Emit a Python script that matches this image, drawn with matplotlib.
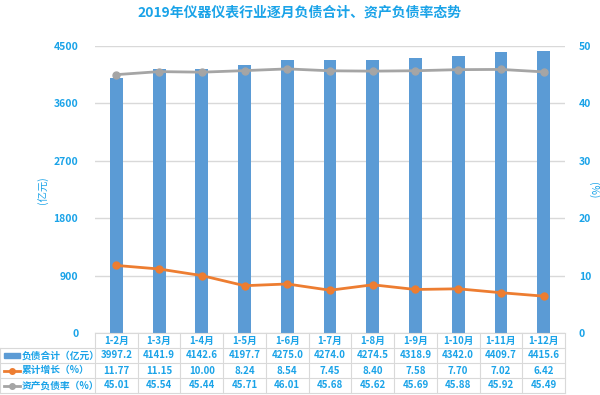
import matplotlib.pyplot as plt
import numpy as np

plt.rcParams['font.family'] = ['Noto Sans CJK SC', 'DejaVu Sans']

# 数据
months = ['1-2月', '1-3月', '1-4月', '1-5月', '1-6月', '1-7月',
          '1-8月', '1-9月', '1-10月', '1-11月', '1-12月']
debt = [3997.2, 4141.9, 4142.6, 4197.7, 4275.0, 4274.0,
        4274.5, 4318.9, 4342.0, 4409.7, 4415.6]
growth = [11.77, 11.15, 10.00, 8.24, 8.54, 7.45, 8.40, 7.58, 7.70, 7.02, 6.42]
ratio = [45.01, 45.54, 45.44, 45.71, 46.01, 45.68, 45.62, 45.69, 45.88, 45.92, 45.49]

row_names = ['负债合计（亿元）', '累计增长（%）', '资产负债率（%）']

blue = '#5b9bd5'
orange = '#ed7d31'
grey = '#a5a5a5'
txt = '#1aa3e8'
line_c = '#d9d9d9'

fig = plt.figure(figsize=(6, 3.95), dpi=100)
W, H = 600, 395
x0, x1, ytop, ybot = 95, 565, 46, 333
ax = fig.add_axes([x0 / W, 1 - ybot / H, (x1 - x0) / W, (ybot - ytop) / H])
x = np.arange(len(months))

ax.bar(x, debt, width=0.3, color=blue, zorder=2)
ax.set_xlim(-0.5, len(months) - 0.5)
ax.set_ylim(0, 4500)
ax.set_yticks(np.arange(0, 4501, 900))
ax.grid(axis='y', color=line_c, linewidth=1, zorder=0)
ax.set_xticks([])
for s in ax.spines.values():
    s.set_visible(False)
ax.tick_params(axis='y', length=0, pad=12, colors=txt, labelsize=7.5)
for lab in ax.get_yticklabels():
    lab.set_fontweight('bold')

ax2 = ax.twinx()
ax2.plot(x, growth, color=orange, linewidth=2, marker='o', markersize=5, zorder=3)
ax2.plot(x, ratio, color=grey, linewidth=2, marker='o', markersize=5, zorder=3)
ax2.set_ylim(0, 50)
ax2.set_yticks(np.arange(0, 51, 10))
for s in ax2.spines.values():
    s.set_visible(False)
ax2.tick_params(axis='y', length=0, pad=10, colors=txt, labelsize=7.5)
for lab in ax2.get_yticklabels():
    lab.set_fontweight('bold')

fig.text(43 / W, 1 - 190 / H, '(亿元)', rotation=90, ha='center', va='center',
         color=txt, fontsize=7.5)
fig.text(593 / W, 1 - 190 / H, '(%)', rotation=-90, ha='center', va='center',
         color=txt, fontsize=7.5)

fig.text(0.5, 1 - 13 / H, '2019年仪器仪表行业逐月负债合计、资产负债率态势',
         ha='center', va='center', color=txt, fontsize=10, fontweight='bold')

# 数据表
tb_top, tb_bot = 333, 393
unit = (x1 - x0) / len(months)
left_edge = -0.5 - x0 / unit
axt = fig.add_axes([0, 1 - tb_bot / H, x1 / W, (tb_bot - tb_top) / H])
axt.set_xlim(left_edge, len(months) - 0.5)
axt.set_ylim(4, 0)
axt.axis('off')

# 表格线
for r in range(1, 5):
    axt.plot([left_edge, len(months) - 0.5], [r, r],
             color=line_c, linewidth=0.8, clip_on=False)
axt.plot([-0.5, len(months) - 0.5], [0, 0], color=line_c, linewidth=0.8, clip_on=False)
axt.plot([left_edge, left_edge], [1, 4], color=line_c, linewidth=0.8, clip_on=False)
for c in range(len(months) + 1):
    axt.plot([c - 0.5, c - 0.5], [0, 4], color=line_c, linewidth=0.8, clip_on=False)

for i, m in enumerate(months):
    axt.text(i, 0.5, m, ha='center', va='center', color=txt, fontsize=7, fontweight='bold')
    axt.text(i, 1.5, f'{debt[i]:.1f}', ha='center', va='center', color=txt, fontsize=7, fontweight='bold')
    axt.text(i, 2.5, f'{growth[i]:.2f}', ha='center', va='center', color=txt, fontsize=7, fontweight='bold')
    axt.text(i, 3.5, f'{ratio[i]:.2f}', ha='center', va='center', color=txt, fontsize=7, fontweight='bold')

# 图例标记
lx0 = left_edge + 4 / unit
lx1 = left_edge + 20 / unit
axt.add_patch(plt.Rectangle((lx0, 1.35), lx1 - lx0, 0.3, color=blue))
axt.plot([lx0, lx1], [2.5, 2.5], color=orange, linewidth=2)
axt.plot([(lx0 + lx1) / 2], [2.5], 'o', color=orange, markersize=4)
axt.plot([lx0, lx1], [3.5, 3.5], color=grey, linewidth=2)
axt.plot([(lx0 + lx1) / 2], [3.5], 'o', color=grey, markersize=4)
for r, name in enumerate(row_names):
    axt.text(left_edge + 22 / unit, r + 1.5, name, ha='left', va='center',
             color=txt, fontsize=7, fontweight='bold')

fig.savefig('out.png', dpi=100)
